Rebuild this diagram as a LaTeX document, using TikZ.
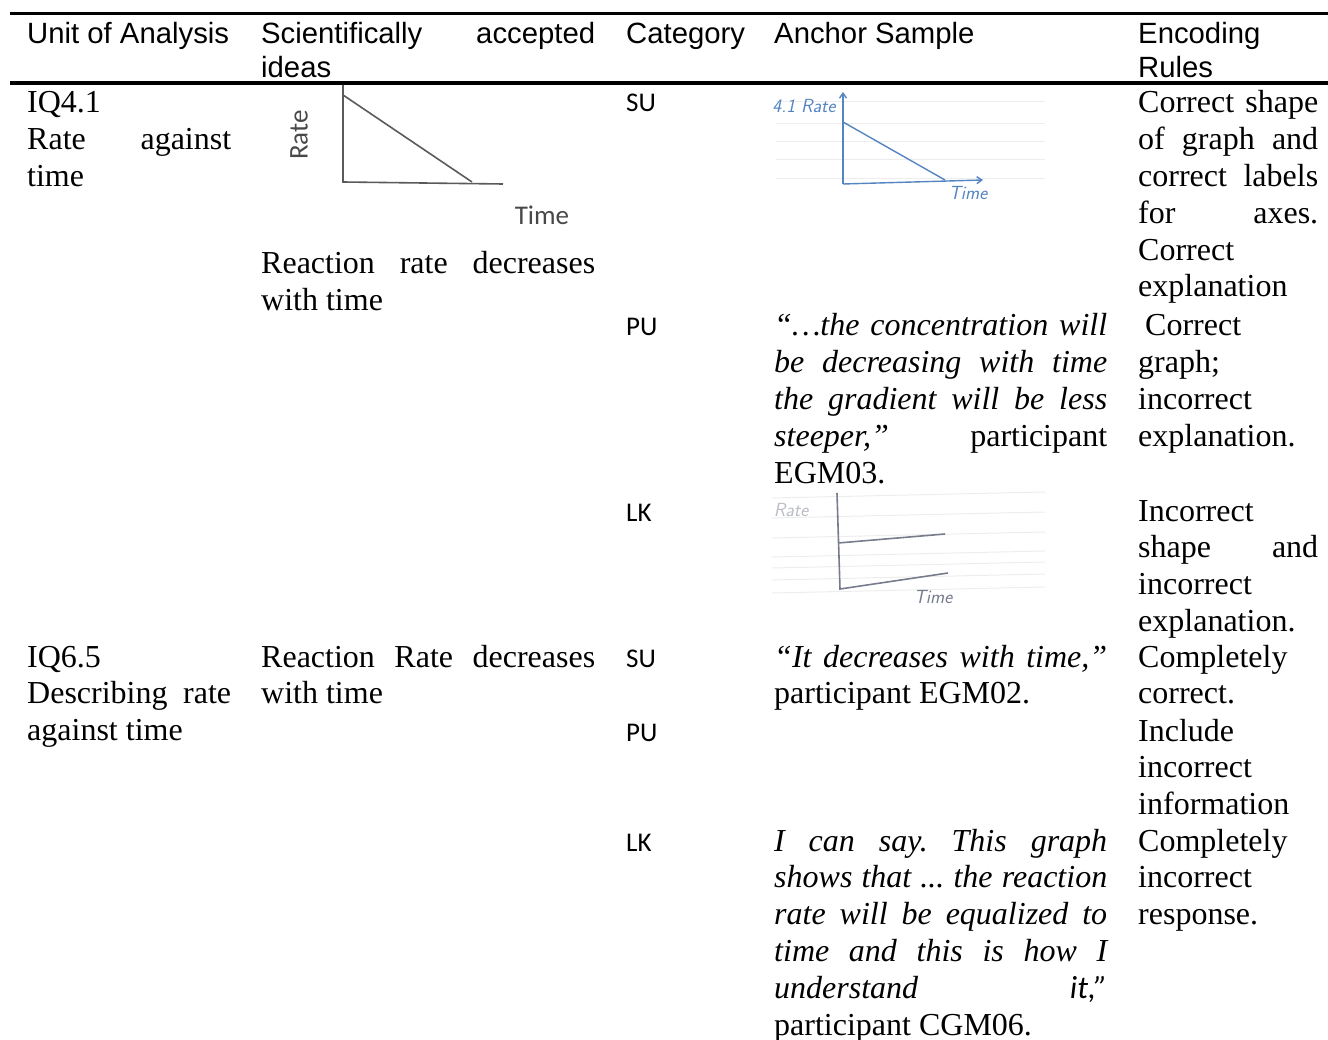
\documentclass[tikz,border=0pt]{standalone}
\usepackage{fontspec}
\setmainfont{Liberation Serif}
\newfontfamily\headfont{Liberation Sans}
\newfontfamily\catfont{Carlito}
\usetikzlibrary{arrows.meta}
\frenchspacing

\definecolor{handblue}{RGB}{84,132,194}
\definecolor{pencil}{RGB}{118,124,140}
\definecolor{printgray}{RGB}{90,90,90}

\begin{document}
\begin{tikzpicture}[x=1pt, y=-1pt,
  cell/.style={anchor=base west, inner sep=0pt, text width=#1, align=justify,
    font=\fontsize{32}{36.8}\selectfont},
  head/.style={anchor=base west, inner sep=0pt, text width=#1, align=justify,
    font=\headfont\fontsize{29.3}{33.5}\selectfont},
  cat/.style={anchor=base west, inner sep=0pt, font=\catfont\fontsize{27}{32}\selectfont},
  tablerule/.style={line width=4pt},
  printaxis/.style={draw=printgray, line width=1.6pt},
  printlabel/.style={inner sep=0pt, text=printgray!80!black, font=\catfont\fontsize{27}{32}\selectfont},
  paperline/.style={draw=black!7, line width=1pt},
  bluestroke/.style={draw=handblue, line width=1.4pt},
  pencilstroke/.style={draw=pencil, line width=1.6pt},
  handlabel/.style={inner sep=0pt, font=\sffamily\itshape\fontsize{19}{22}\selectfont}]
  \useasboundingbox (0,0) rectangle (1328,1040);

  % rules
  \draw[tablerule, line width=3.5pt] (10,13.5) -- (1328,13.5);
  \draw[tablerule] (10,83) -- (1328,83);

  % header
  \node[head=204pt] (hunit)  at (27,44)   {Unit of Analysis};
  \node[head=334pt] (hidea)  at (261,44)  {Scientifically accepted\linebreak ideas};
  \node[head=140pt] (hcat)   at (626,44)  {Category};
  \node[head=333pt] (hanch)  at (774,44)  {Anchor Sample};
  \node[head=180pt] (hrule)  at (1138,44) {Encoding\linebreak Rules};

  % first unit
  \node[cell=204pt] (unit1) at (27,113) {IQ4.1\linebreak Rate against\linebreak time};

  \draw[printaxis] (343,85) -- (343,182) -- (503,184);
  \draw[printaxis] (343,95) -- (472,182);
  \node[printlabel, rotate=90] (rate1) at (299,135) {Rate};
  \node[printlabel] (time1) at (542,215) {Time};
  \node[cell=334pt] (idea1) at (261,274) {Reaction rate decreases\linebreak with time};

  \node[cat] (su1) at (626,112) {SU};
  \node[cat] (pu1) at (626,336) {PU};
  \node[cat] (lk1) at (626,521) {LK};

  \foreach \y in {102,124,142,160,179}
    \draw[paperline] (776,\y) -- (1045,\y);
  \draw[bluestroke, -{Straight Barb[length=5pt, width=7pt]}] (843,184) -- (843,92);
  \draw[bluestroke, -{Straight Barb[length=5pt, width=7pt]}] (843,184) -- (983,180);
  \draw[bluestroke] (843,122) -- (945,180);
  \node[handlabel, text=handblue] (rate2) at (804,106) {4.1 Rate};
  \node[handlabel, text=handblue] (time2) at (968,193) {Time};

  \node[cell=333pt] (anch1) at (774,336)
    {\textit{“…the concentration will\linebreak be decreasing with time\linebreak
    the gradient will be less\linebreak steeper,”} participant\linebreak EGM03.};

  \foreach \y in {498,518,538,557,568,580,593}
    \draw[paperline] (772,\y) -- (1045,\y-6);
  \draw[pencilstroke] (837,493) -- (840,589) -- (948,573);
  \draw[pencilstroke] (838,543) -- (945,534);
  \node[handlabel, text=pencil!50] (rate3) at (791,510) {Rate};
  \node[handlabel, text=pencil] (time3) at (933,597) {Time};

  \node[cell=180pt] (code1) at (1138,113)
    {Correct shape\linebreak of graph and\linebreak correct labels\linebreak
    for axes.\linebreak Correct\linebreak explanation};
  \node[cell=180pt] (code2) at (1138,336)
    {\hspace*{7pt}Correct\linebreak graph;\linebreak incorrect\linebreak explanation.};
  \node[cell=180pt] (code3) at (1138,521)
    {Incorrect\linebreak shape and\linebreak incorrect\linebreak explanation.};

  % second unit
  \node[cell=204pt] (unit2) at (27,667) {IQ6.5\linebreak Describing rate\linebreak against time};
  \node[cell=334pt] (idea2) at (261,667) {Reaction Rate decreases\linebreak with time};

  \node[cat] (su2) at (626,667) {SU};
  \node[cat] (pu2) at (626,741) {PU};
  \node[cat] (lk2) at (626,851) {LK};

  \node[cell=333pt] (anch4) at (774,667)
    {\textit{“It decreases with time,”}\linebreak participant EGM02.};
  \node[cell=333pt] (anch6) at (774,851)
    {\textit{I can say. This graph\linebreak shows that ... the reaction\linebreak
    rate will be equalized to\linebreak time and this is how I\linebreak
    understand} {\catfont\itshape it,”}\linebreak participant CGM06.};

  \node[cell=180pt] (code4) at (1138,667) {Completely\linebreak correct.};
  \node[cell=180pt] (code5) at (1138,741) {Include\linebreak incorrect\linebreak information};
  \node[cell=180pt] (code6) at (1138,851) {Completely\linebreak incorrect\linebreak response.};
\end{tikzpicture}
\end{document}
